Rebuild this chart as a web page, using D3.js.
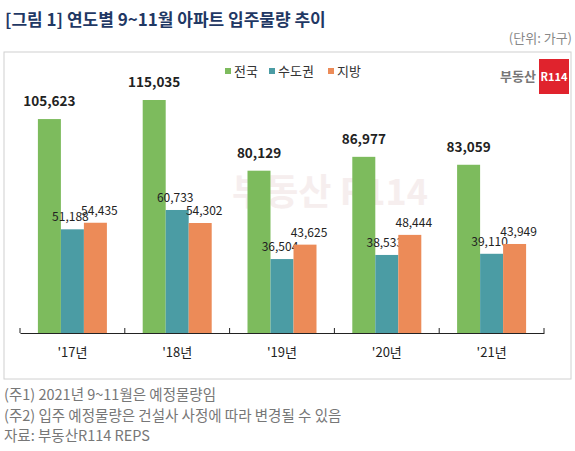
<!DOCTYPE html><html><head><meta charset="utf-8"><script src="https://cdn.jsdelivr.net/npm/d3@7"></script>
<style>body{margin:0;background:#fff}text{font-family:"Noto Sans CJK KR","Noto Sans",sans-serif}</style></head><body>
<svg id="c" width="575" height="451"></svg>
<script>
const categories=["'17년","'18년","'19년","'20년","'21년"];
const seriesNames=["전국","수도권","지방"];
const national=[105623,115035,80129,86977,83059];
const capital=[51188,60733,36504,38533,39110];
const regional=[54435,54302,43625,48444,43949];
const colors=["#7dbb5d","#4b9ca4","#ec8b58"];
const svg=d3.select("#c");
svg.append("text").attr("x",5).attr("y",26).attr("font-size",17).attr("font-weight","bold").attr("fill","#1f3864").text("[그림 1] 연도별 9~11월 아파트 입주물량 추이");
svg.append("text").attr("x",572).attr("y",43).attr("text-anchor","end").attr("font-size",13).attr("fill","#888").text("(단위: 가구)");
svg.append("rect").attr("x",4).attr("y",52).attr("width",567).attr("height",327).attr("fill","none").attr("stroke","#d0d0d0");
svg.append("text").attr("x",330).attr("y",205).attr("text-anchor","middle").attr("font-size",36).attr("font-weight","bold").attr("fill","#f6eeee").text("부동산 R114");
svg.append("text").attr("x",536).attr("y",81).attr("text-anchor","end").attr("font-size",13).attr("font-weight","bold").attr("fill","#777").text("부동산");
svg.append("rect").attr("x",539).attr("y",59).attr("width",30).attr("height",35).attr("fill","#e0232d");
svg.append("text").attr("x",554).attr("y",81).attr("text-anchor","middle").attr("font-size",11).attr("font-weight","bold").attr("fill","#fff").text("R114");
const lg=svg.append("g");
const lx=[225,269,328];
seriesNames.forEach((n,i)=>{lg.append("rect").attr("x",lx[i]).attr("y",68).attr("width",6).attr("height",6).attr("fill",colors[i]);
lg.append("text").attr("x",lx[i]+9).attr("y",76).attr("font-size",13).attr("fill","#333").text(n);});
const x=d3.scaleBand().domain(categories).range([20,544]);
const y=d3.scaleLinear().domain([0,115035]).range([333,100]);
const sub=d3.scaleBand().domain([0,1,2]).range([0,69]);
const data=[national,capital,regional];
categories.forEach((c,ci)=>{
  const gx=x(c)+x.bandwidth()/2-34.5;
  data.forEach((s,si)=>{
    svg.append("rect").attr("x",gx+sub(si)).attr("y",y(s[ci])).attr("width",sub.bandwidth()).attr("height",333-y(s[ci])).attr("fill",colors[si]);
    const bold=si===0;
    svg.append("text").attr("x",gx+sub(si)+sub.bandwidth()/2+(bold?0:(si===1?-2:4))).attr("y",y(s[ci])-(bold?13:8))
      .attr("text-anchor","middle").attr("font-size",bold?13.5:12).attr("font-weight",bold?"bold":"normal").attr("fill","#222").text(d3.format(",")(s[ci]));
  });
});
const ax=svg.append("g").attr("transform","translate(0,333)").call(d3.axisBottom(x).tickSize(0).tickPadding(15));
ax.select(".domain").attr("stroke","#222");
ax.selectAll(".tick text").attr("font-size",13).attr("fill","#222").attr("font-family","'Noto Sans CJK KR'");
[...categories.map(c=>x(c)),544].forEach(t=>svg.append("line").attr("x1",t).attr("x2",t).attr("y1",328).attr("y2",333).attr("stroke","#222"));
const notes=["(주1) 2021년 9~11월은 예정물량임","(주2) 입주 예정물량은 건설사 사정에 따라 변경될 수 있음","자료: 부동산R114 REPS"];
notes.forEach((n,i)=>svg.append("text").attr("x",4).attr("y",400+i*20.5).attr("font-size",14.5).attr("fill","#777").text(n));
</script></body></html>
